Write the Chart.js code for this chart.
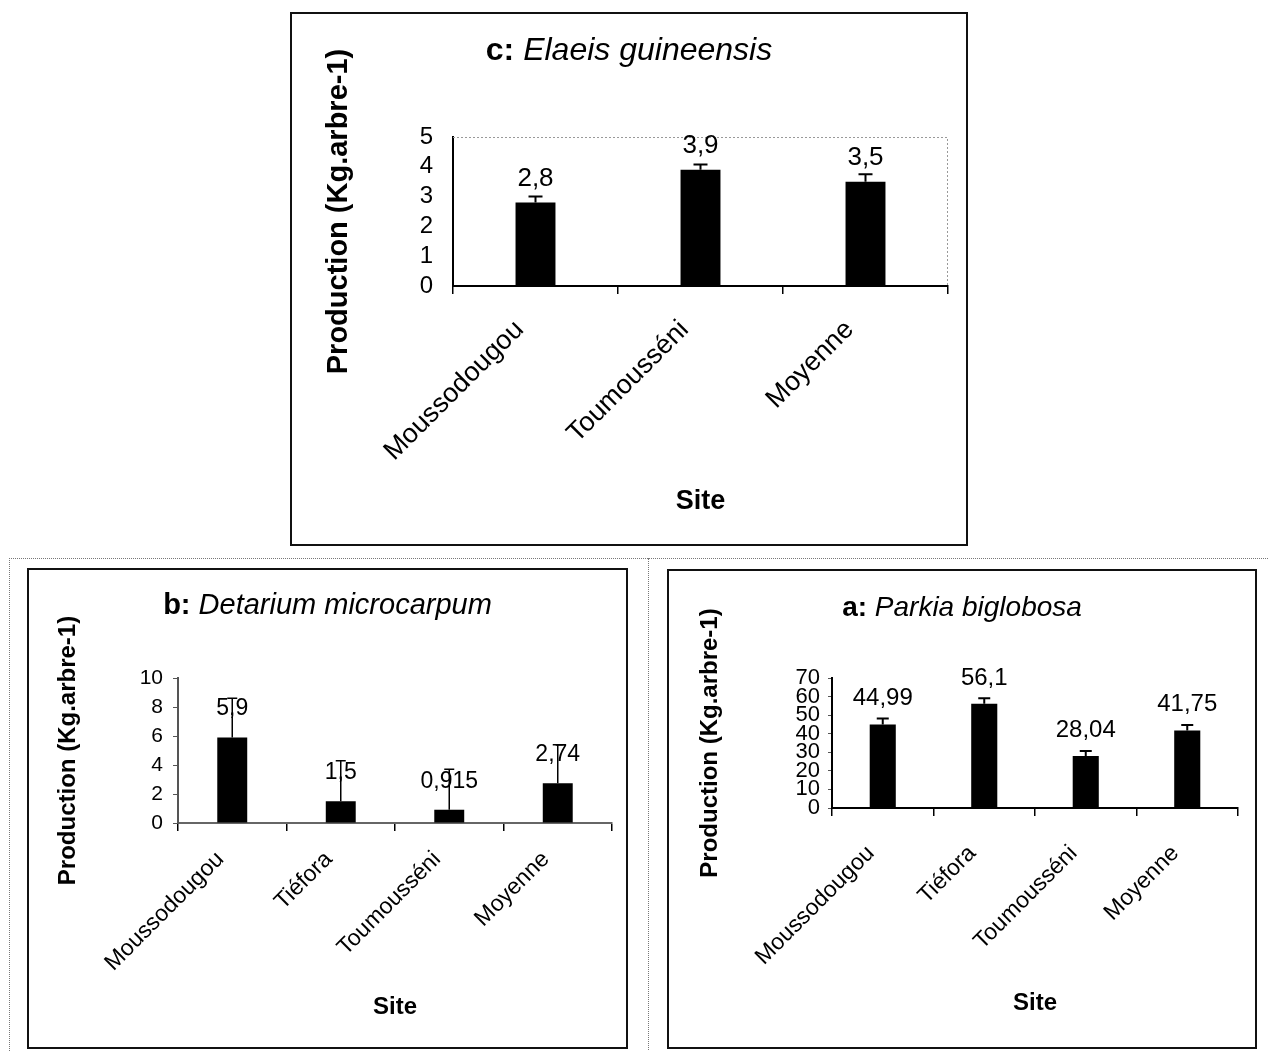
<!DOCTYPE html>
<html>
<head>
<meta charset="utf-8">
<script src="https://cdn.jsdelivr.net/npm/chart.js@4.4.0/dist/chart.umd.min.js"></script>
<style>
    body { margin: 0; background: #fff; width: 1268px; height: 1051px; position: relative; overflow: hidden; }
    .frame { position: absolute; left: 9px; top: 558px; width: 1300px; height: 600px; border-top: 1px dotted #777; border-left: 1px dotted #777; }
    .vline { position: absolute; left: 648px; top: 558px; height: 600px; border-left: 1px dotted #777; }
    .box { position: absolute; border: 2px solid #111; background: #fff; }
    .box canvas { display: block; }
</style>
</head>
<body>
<div class="frame"></div>
<div class="vline"></div>
<div class="box" style="left:290px;top:12px;"><canvas id="chartC" width="674" height="530"></canvas></div>
<div class="box" style="left:27px;top:568px;"><canvas id="chartB" width="597" height="477"></canvas></div>
<div class="box" style="left:667px;top:569px;"><canvas id="chartA" width="586" height="476"></canvas></div>

<script>
// ===== Data =====
// c: Elaeis guineensis
const sitesC = ['Moussodougou', 'Toumousséni', 'Moyenne'];
const prodC = [2.8, 3.9, 3.5];
const errC = [0.2, 0.18, 0.25];
const ticksC = [0, 1, 2, 3, 4, 5];

// b: Detarium microcarpum
const sitesB = ['Moussodougou', 'Tiéfora', 'Toumousséni', 'Moyenne'];
const prodB = [5.9, 1.5, 0.915, 2.74];
const errB = [2.7, 2.8, 2.8, 2.66];
const ticksB = [0, 2, 4, 6, 8, 10];

// a: Parkia biglobosa
const sitesA = ['Moussodougou', 'Tiéfora', 'Toumousséni', 'Moyenne'];
const prodA = [44.99, 56.1, 28.04, 41.75];
const errA = [3.2, 3.0, 2.6, 3.0];
const ticksA = [0, 10, 20, 30, 40, 50, 60, 70];

const FONT = "'Liberation Sans', Arial, sans-serif";
Chart.defaults.font.family = FONT;
Chart.defaults.color = '#000';

// ===== Labels, error bars, frame and mixed-style title =====
const barExtras = {
    id: 'barExtras',
    afterDatasetsDraw(chart, args, opts) {
        const ctx = chart.ctx;
        const yScale = chart.scales.y;
        const ds = chart.data.datasets[0];
        const meta = chart.getDatasetMeta(0);
        const area = chart.chartArea;
        ctx.save();

        // dotted top/right edge of plot area
        if (opts.frame) {
            ctx.strokeStyle = '#999';
            ctx.lineWidth = 1;
            ctx.setLineDash([2, 2]);
            ctx.beginPath();
            ctx.moveTo(area.left, area.top + 0.5);
            ctx.lineTo(area.right - 0.5, area.top + 0.5);
            ctx.lineTo(area.right - 0.5, area.bottom);
            ctx.stroke();
            ctx.setLineDash([]);
        }

        // value labels
        ctx.font = `${opts.labelSize}px ${FONT}`;
        ctx.fillStyle = '#000';
        ctx.textAlign = 'center';
        ctx.textBaseline = 'alphabetic';
        meta.data.forEach((bar, i) => {
            ctx.fillText(String(ds.data[i]).replace('.', ','), bar.x, bar.y - opts.labelGap);
        });

        // error bars (upper only)
        ctx.strokeStyle = '#000';
        ctx.lineWidth = opts.errWidth;
        meta.data.forEach((bar, i) => {
            const top = yScale.getPixelForValue(ds.data[i] + ds.errors[i]);
            ctx.beginPath();
            ctx.moveTo(bar.x, bar.y);
            ctx.lineTo(bar.x, top);
            ctx.moveTo(bar.x - opts.cap / 2, top);
            ctx.lineTo(bar.x + opts.cap / 2, top);
            ctx.stroke();
        });

        // title: bold letter + italic species
        const boldPart = opts.letter + ': ';
        ctx.textBaseline = 'middle';
        ctx.textAlign = 'left';
        ctx.font = `bold ${opts.titleSize}px ${FONT}`;
        const w1 = ctx.measureText(boldPart).width;
        ctx.font = `italic ${opts.titleSize}px ${FONT}`;
        const w2 = ctx.measureText(opts.species).width;
        const x0 = chart.width / 2 - (w1 + w2) / 2;
        ctx.font = `bold ${opts.titleSize}px ${FONT}`;
        ctx.fillText(boldPart, x0, opts.titleY);
        ctx.font = `italic ${opts.titleSize}px ${FONT}`;
        ctx.fillText(opts.species, x0 + w1, opts.titleY);

        ctx.restore();
    }
};

// ===== Build one panel =====
function makeChart(id, cfg) {
    const ctx = document.getElementById(id).getContext('2d');
    return new Chart(ctx, {
        type: 'bar',
        data: {
            labels: cfg.labels,
            datasets: [{
                data: cfg.values,
                errors: cfg.errors,
                backgroundColor: '#000',
                borderWidth: 0,
                barPercentage: cfg.barPct,
                categoryPercentage: 1
            }]
        },
        options: {
            responsive: false,
            animation: false,
            layout: { padding: cfg.padding },
            plugins: {
                legend: { display: false },
                tooltip: { enabled: false },
                barExtras: cfg.extras
            },
            scales: {
                x: {
                    afterFit: s => { s.height = cfg.xHeight; },
                    grid: { display: true, drawOnChartArea: false, drawTicks: true, tickLength: 8, tickColor: '#000', lineWidth: 1.5 },
                    border: { display: true, color: cfg.xBorder.color, width: 2, dash: cfg.xBorder.dash },
                    ticks: { font: { size: cfg.xFont }, minRotation: 45, maxRotation: 45, padding: cfg.xPad, labelOffset: cfg.labelOffset, color: '#000' },
                    title: { display: true, text: 'Site', font: { size: cfg.siteFont, weight: 'bold' }, color: '#000' }
                },
                y: {
                    min: cfg.ticks[0],
                    max: cfg.ticks[cfg.ticks.length - 1],
                    afterFit: s => { s.width = cfg.yWidth; },
                    afterBuildTicks: s => { s.ticks = cfg.ticks.map(v => ({ value: v })); },
                    grid: { display: true, drawOnChartArea: false, drawTicks: cfg.yTickLen > 0, tickLength: cfg.yTickLen, tickColor: '#555' },
                    border: { display: true, color: cfg.yBorder.color, width: 2, dash: cfg.yBorder.dash },
                    ticks: { font: { size: cfg.yFont }, autoSkip: false, padding: cfg.yPad, color: '#000' },
                    title: { display: true, text: 'Production (Kg.arbre-1)', font: { size: cfg.yTitleFont, weight: 'bold' }, color: '#000' }
                }
            }
        },
        plugins: [barExtras]
    });
}

document.addEventListener('DOMContentLoaded', () => {
    makeChart('chartC', {
        labels: sitesC, values: prodC, errors: errC, ticks: ticksC,
        barPct: 0.242,
        padding: { top: 123, right: 18, left: 26, bottom: 22 },
        xHeight: 236, yWidth: 135,
        xFont: 27, xPad: 20, siteFont: 27, yFont: 24, yTitleFont: 29, yPad: 20, yTickLen: 0,
        labelOffset: -16,
        xBorder: { color: '#000', dash: [] },
        yBorder: { color: '#000', dash: [] },
        extras: { frame: true, labelSize: 26, labelGap: 17, errWidth: 2, cap: 14, letter: 'c', species: 'Elaeis guineensis', titleSize: 32, titleY: 37 }
    });

    makeChart('chartB', {
        labels: sitesB, values: prodB, errors: errB, ticks: ticksB,
        barPct: 0.276,
        padding: { top: 108, right: 14, left: 21, bottom: 21 },
        xHeight: 203, yWidth: 128,
        xFont: 23, xPad: 15, siteFont: 24, yFont: 21, yTitleFont: 24, yPad: 10, yTickLen: 5,
        labelOffset: -12,
        xBorder: { color: '#666', dash: [6, 4] },
        yBorder: { color: '#555', dash: [5, 3] },
        extras: { frame: false, labelSize: 23, labelGap: 22, errWidth: 1.5, cap: 10, letter: 'b', species: 'Detarium microcarpum', titleSize: 29, titleY: 36 }
    });

    makeChart('chartA', {
        labels: sitesA, values: prodA, errors: errA, ticks: ticksA,
        barPct: 0.257,
        padding: { top: 107, right: 17, left: 23, bottom: 25 },
        xHeight: 214, yWidth: 140,
        xFont: 23, xPad: 24, siteFont: 24, yFont: 22, yTitleFont: 24, yPad: 8, yTickLen: 4,
        labelOffset: -12,
        xBorder: { color: '#000', dash: [] },
        yBorder: { color: '#000', dash: [] },
        extras: { frame: false, labelSize: 24, labelGap: 19, errWidth: 2, cap: 12, letter: 'a', species: 'Parkia biglobosa', titleSize: 28, titleY: 37 }
    });
});
</script>
</body>
</html>
